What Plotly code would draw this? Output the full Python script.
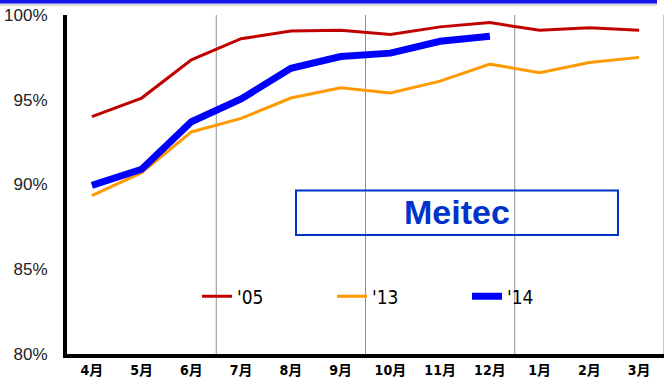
import plotly.graph_objects as go

# Monthly rate, fiscal year April -> March
months = ["4月", "5月", "6月", "7月", "8月", "9月", "10月", "11月", "12月", "1月", "2月", "3月"]
rate_05 = [94.0, 95.1, 97.35, 98.6, 99.05, 99.1, 98.85, 99.3, 99.55, 99.1, 99.25, 99.1]
rate_13 = [89.35, 90.7, 93.1, 93.9, 95.1, 95.7, 95.4, 96.1, 97.1, 96.6, 97.2, 97.5]
rate_14 = [89.95, 90.9, 93.7, 95.05, 96.85, 97.55, 97.75, 98.45, 98.75, None, None, None]

y_ticks = [80, 85, 90, 95, 100]
y_tick_text = ["80%", "85%", "90%", "95%", "100%"]
# quarter boundaries (between 6/7, 9/10, 12/1 and after 3)
quarter_edges = [2.5, 5.5, 8.5, 11.5]

label_font = dict(family="DejaVu Sans Condensed, Noto Sans CJK JP", color="black")

fig = go.Figure()
fig.add_trace(go.Scatter(x=months, y=rate_05, name="'05", mode="lines",
                         line=dict(color="#C00000", width=3)))
fig.add_trace(go.Scatter(x=months, y=rate_13, name="'13", mode="lines",
                         line=dict(color="#FF9900", width=3)))
fig.add_trace(go.Scatter(x=months, y=rate_14, name="'14", mode="lines",
                         line=dict(color="#0000FF", width=7)))

shapes = []
for xe in quarter_edges:
    shapes.append(dict(type="line", xref="x", yref="paper", x0=xe, x1=xe, y0=0, y1=1,
                       line=dict(color="#8C8C8C", width=1), layer="below"))
# company label box
shapes.append(dict(type="rect", xref="paper", yref="paper",
                   x0=(296 - 67) / 597, x1=(618 - 67) / 597,
                   y0=(357 - 237) / 342, y1=(357 - 192) / 342,
                   line=dict(color="#0033CC", width=2), fillcolor="rgba(0,0,0,0)"))
# header band
shapes.append(dict(type="rect", xref="paper", yref="paper",
                   x0=-67 / 597, x1=(657 - 67) / 597,
                   y0=1 + 9 / 342, y1=1 + 15.5 / 342,
                   line=dict(width=0), fillcolor="#DCDCDC"))
shapes.append(dict(type="rect", xref="paper", yref="paper",
                   x0=-67 / 597, x1=(657 - 67) / 597,
                   y0=1 + 11.5 / 342, y1=1 + 15.5 / 342,
                   line=dict(width=0), fillcolor="#1515F0"))

fig.update_layout(
    width=667, height=381,
    margin=dict(l=67, r=3, t=15, b=24),
    paper_bgcolor="white", plot_bgcolor="white",
    showlegend=True,
    legend=dict(orientation="h", x=(197 - 67) / 597, xanchor="left",
                y=(357 - 299) / 342, yanchor="middle",
                entrywidth=90, entrywidthmode="pixels",
                font=dict(size=19, **label_font), bgcolor="rgba(0,0,0,0)"),
    shapes=shapes,
    annotations=[dict(text="<b>Meitec</b>", xref="paper", yref="paper",
                      x=(457 - 67) / 597, y=(357 - 214) / 342,
                      showarrow=False, xanchor="center", yanchor="middle",
                      font=dict(family="Liberation Sans, Arial", size=34, color="#0033CC"))],
    hovermode=False,
)
fig.update_xaxes(type="category", range=[-0.5, 11.5], showgrid=False, zeroline=False,
                 showline=True, linecolor="black", linewidth=4, ticks="",
                 tickfont=dict(size=14, weight="bold", **label_font))
fig.update_yaxes(range=[80, 100], tickvals=y_ticks, ticktext=y_tick_text,
                 showgrid=False, zeroline=False, showline=True, linecolor="black",
                 linewidth=4, ticks="", ticklabelstandoff=12,
                 tickfont=dict(family="Liberation Sans, Arial", size=17, color="#222222"))

fig.write_html("out.html")
